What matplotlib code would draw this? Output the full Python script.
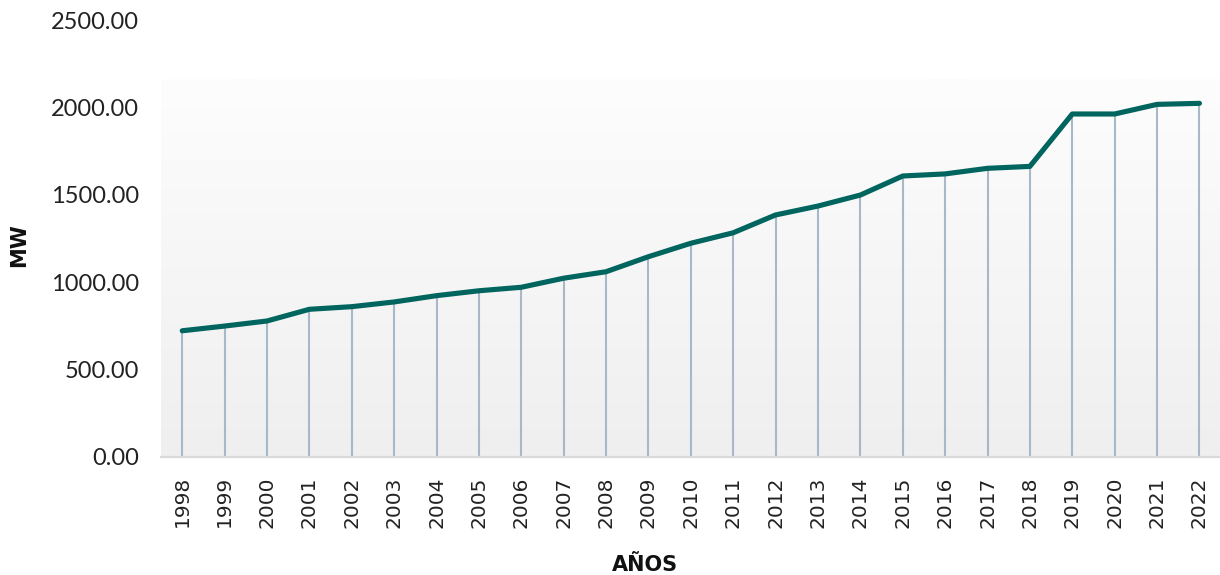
import numpy as np
import matplotlib
matplotlib.use("Agg")
import matplotlib.pyplot as plt
from matplotlib.colors import LinearSegmentedColormap

# Installed capacity per year (MW)
years = ["1998", "1999", "2000", "2001", "2002", "2003", "2004", "2005", "2006",
         "2007", "2008", "2009", "2010", "2011", "2012", "2013", "2014", "2015",
         "2016", "2017", "2018", "2019", "2020", "2021", "2022"]
capacity_mw = [721, 748, 777, 844, 859, 886, 922, 950, 970,
               1022, 1059, 1145, 1222, 1282, 1384, 1435, 1498, 1607,
               1619, 1651, 1662, 1962, 1962, 2017, 2023]
y_ticks = [0, 500, 1000, 1500, 2000, 2500]

line_color = "#00655e"
drop_color = "#a9b8c8"

fig = plt.figure(figsize=(12.2, 5.75), dpi=100)
ax = fig.add_axes([0.132, 0.2057, 0.8685, 0.7595])

x = np.arange(len(years))
ax.set_xlim(-0.5, len(years) - 0.5)
ax.set_ylim(0, 2500)

# soft vertical gradient behind the series
grad = np.linspace(0, 1, 256).reshape(-1, 1)
cmap = LinearSegmentedColormap.from_list("bg", ["#efefef", "#fdfdfd"])
ax.imshow(grad, aspect="auto", cmap=cmap, origin="lower",
          extent=(-0.5, len(years) - 0.5, 0, 2162), zorder=0)

# drop lines from each point down to the axis
ax.vlines(x, 0, capacity_mw, color=drop_color, linewidth=1.5, zorder=2)
ax.plot(x, capacity_mw, color=line_color, linewidth=3.7,
        solid_capstyle="round", solid_joinstyle="round", zorder=3)

for side in ["top", "right", "left"]:
    ax.spines[side].set_visible(False)
ax.spines["bottom"].set_color("#d9d9d9")
ax.spines["bottom"].set_linewidth(1.6)
ax.spines["bottom"].set_zorder(4)

ax.set_yticks(y_ticks)
ax.set_yticklabels([f"{v:.2f}" for v in y_ticks], fontfamily="Lato",
                   fontsize=17, color="#222222")
ax.set_xticks(x)
ax.set_xticklabels(years, rotation=90, fontfamily="DejaVu Sans",
                   fontsize=14.5, color="#222222")
ax.tick_params(axis="y", length=0, pad=16)
ax.tick_params(axis="x", length=0, pad=14)

fig.text(0.0156, 0.574, "MW", rotation=90, ha="center", va="center",
         fontfamily="DejaVu Sans", fontweight="bold", fontsize=15,
         color="#111111")
fig.text(0.529, 0.017, "AÑOS", ha="center", va="center",
         fontfamily="DejaVu Sans", fontweight="bold", fontsize=15,
         color="#111111")

fig.savefig("out.png", dpi=100, facecolor="white")
